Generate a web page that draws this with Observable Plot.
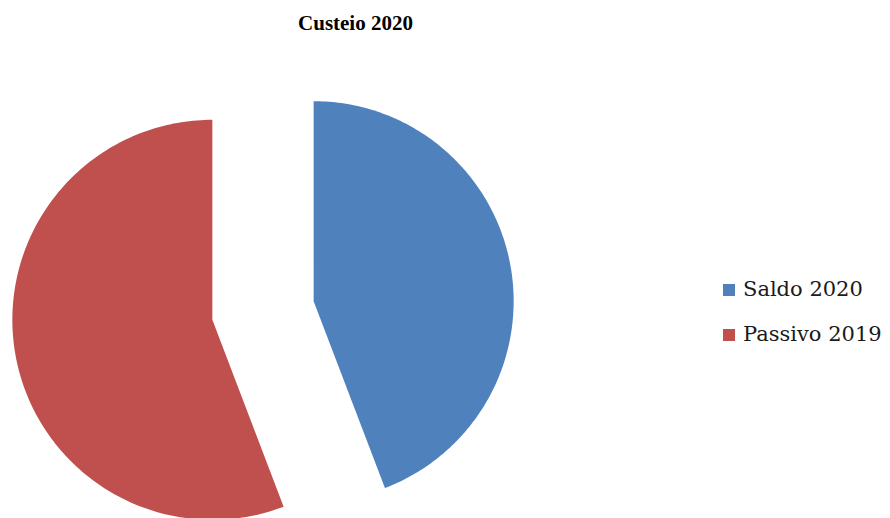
<!DOCTYPE html>
<html>
<head>
<meta charset="utf-8">
<script src="https://cdn.jsdelivr.net/npm/d3@7"></script>
<script src="https://cdn.jsdelivr.net/npm/@observablehq/plot@0.6"></script>
<style>
  html, body { margin: 0; padding: 0; background: #fff; }
  #page { position: relative; width: 890px; height: 518px; overflow: hidden; background: #fff; }
  #title { position: absolute; left: 0; top: 13px; width: 711px; text-align: center;
           font: bold 21px/21px "Liberation Serif", serif; color: #000; }
  #chart { position: absolute; left: 0; top: 60px; }
  #legend { position: absolute; left: 723px; top: 267px; font: 21px/45px "DejaVu Serif", serif; color: #1a1a1a; }
  .row { position: relative; height: 45px; padding-left: 20px; white-space: nowrap; }
  .sw { position: absolute; left: 0; top: 17px; width: 12px; height: 12px; }
</style>
</head>
<body>
<div id="page">
  <div id="title"></div>
  <div id="chart"></div>
  <div id="legend"></div>
</div>
<script>
const title = "Custeio 2020";
const categories = ["Saldo 2020", "Passivo 2019"];
const values = [44.2, 55.8];
const colors = ["#4F81BD", "#C0504D"];

// layout (not data)
const W = 712, H = 458;
const explode = 0.2575;

const pie = d3.pie().sort(null).value(d => d.value);
const arcs = pie(categories.map((c, i) => ({key: c, value: values[i]})));

const pts = [];
for (const a of arcs) {
  const mid = (a.startAngle + a.endAngle) / 2;
  const cx = explode * Math.sin(mid), cy = explode * Math.cos(mid);
  pts.push({key: a.data.key, x: cx, y: cy});
  const n = 180;
  for (let k = 0; k <= n; k++) {
    const t = a.startAngle + (a.endAngle - a.startAngle) * k / n;
    pts.push({key: a.data.key, x: cx + Math.sin(t), y: cy + Math.cos(t)});
  }
  pts.push({key: a.data.key, x: cx, y: cy});
}

const chart = Plot.plot({
  width: W, height: H,
  margin: 0,
  x: {domain: [-1.3125, 2.2475], axis: null},
  y: {domain: [-1.04, 1.25], axis: null},
  color: {domain: categories, range: colors},
  marks: [
    Plot.line(pts, {x: "x", y: "y", z: "key", fill: "key", stroke: "none"})
  ]
});
document.getElementById("chart").appendChild(chart);
document.getElementById("title").textContent = title;

const leg = document.getElementById("legend");
categories.forEach((c, i) => {
  const row = document.createElement("div");
  row.className = "row";
  const sw = document.createElement("span");
  sw.className = "sw";
  sw.style.background = colors[i];
  row.appendChild(sw);
  row.appendChild(document.createTextNode(c));
  leg.appendChild(row);
});
</script>
</body>
</html>
